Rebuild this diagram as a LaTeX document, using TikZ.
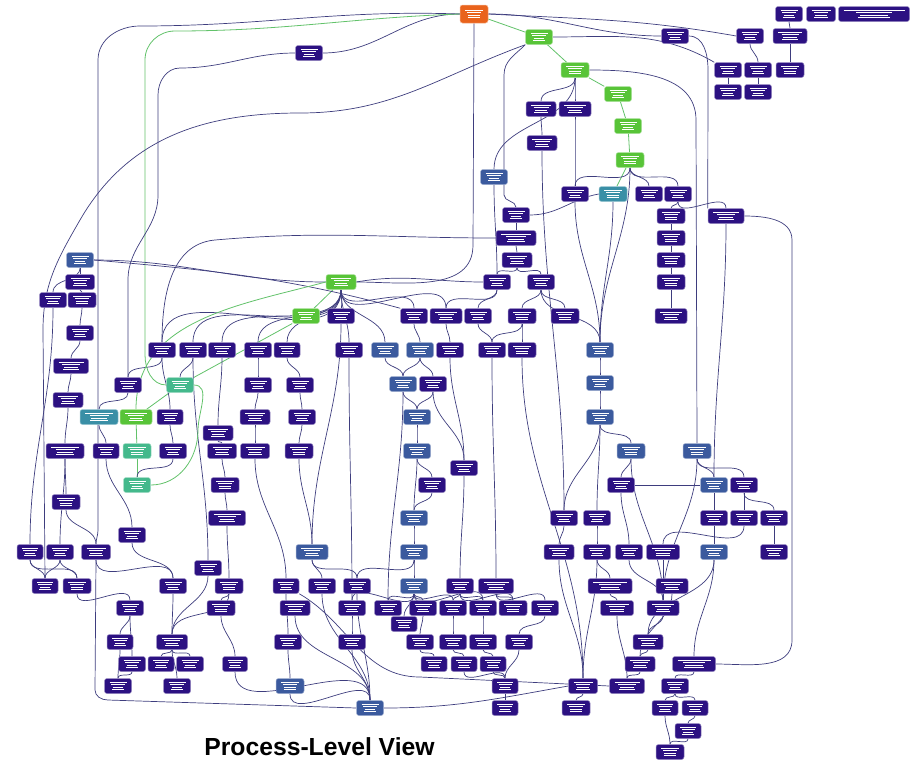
\documentclass[tikz,border=0pt]{standalone}
\usepackage{fontspec}
\newfontfamily\titlefont{Liberation Sans}
\usepackage{xcolor}
\usetikzlibrary{calc}
\pgfdeclarelayer{edges}
\pgfsetlayers{edges,main}

\definecolor{fnindigo}{HTML}{2C1182}
\definecolor{fnsteel}{HTML}{3B5A9E}
\definecolor{fnteal}{HTML}{3A8FA6}
\definecolor{fngreen}{HTML}{58C438}
\definecolor{fnmint}{HTML}{44B98C}
\definecolor{fnorange}{HTML}{E9631C}
\definecolor{edgeblue}{HTML}{3E3D7E}
\definecolor{edgegreen}{HTML}{62C26A}

% white bars standing for the unreadable node text
\newcommand{\fnlines}[1]{\vbox{\offinterlineskip\halign{\hfil##\hfil\cr
\rule{\dimexpr#1pt-10pt\relax}{0.9pt}\cr\noalign{\kern1.7pt}
\rule{\dimexpr#1pt*5/10\relax}{0.9pt}\cr\noalign{\kern1.7pt}
\rule{\dimexpr#1pt*4/10\relax}{0.9pt}\cr\noalign{\kern1.7pt}
\rule{\dimexpr#1pt*45/100\relax}{0.9pt}\cr}}}

\tikzset{
  fn/.style={rounded corners=2.5pt, inner sep=0pt, minimum height=15pt,
    text=white, fill=#1, draw=#1!50!white, line width=0.5pt},
  ln/.style={draw=edgeblue, line width=0.7pt},
  gln/.style={draw=edgegreen, line width=0.8pt}
}

\begin{document}
\begin{tikzpicture}[x=1pt,y=1pt]
\useasboundingbox (0,0) rectangle (912,-764);

\node[fn=fnorange, minimum width=28pt, minimum height=18pt] (root) at (474,-14) {\fnlines{28}};
\foreach \n/\x/\y/\w in {g1/539/37/27, g2/575/70/28, g3/618/94/27, g4/628/126/27,
  g5/630/160/28, g6/341/282/30, g7/306/316/27, g9/136/417/32}
  \node[fn=fngreen, minimum width=\w pt] (\n) at (\x,-\y) {\fnlines{\w}};
\foreach \n/\x/\y/\w in {g8/180/385/27, g10/137/451/28, g11/137/485/27}
  \node[fn=fnmint, minimum width=\w pt] (\n) at (\x,-\y) {\fnlines{\w}};
\foreach \n/\x/\y/\w in {tl/613/194/28, lt/99/417/38}
  \node[fn=fnteal, minimum width=\w pt] (\n) at (\x,-\y) {\fnlines{\w}};
\foreach \n/\x/\y/\w in {t5/494/177/27, m8/385/350/27, m9/420/350/27, m13/600/350/27,
  m14/403/384/27, m16/600/383/27, m17/417/417/27, m18/600/417/27, m19/417/451/27,
  m22/414/518/27, m23/414/552/27, m24/312/552/32, m27/414/586/27, b21/370/708/27,
  r5/631/451/28, r6/697/451/28, r8/714/485/27, r15/714/552/27, l1/80/260/27, l51/290/686/28}
  \node[fn=fnsteel, minimum width=\w pt] (\n) at (\x,-\y) {\fnlines{\w}};
\foreach \n/\x/\y/\w in {t1/309/53/27, t2/541/109/30, t3/575/109/32, t4/542/143/30,
  t6/575/194/27, t7/649/194/27, t8/678/194/27, t9/516/215/27, t10/516/238/40,
  t11/517/260/30, t12/497/282/27, t13/541/282/27, t14/726/216/36, t15/671/216/28,
  t16/671/238/28, t17/671/260/28, t18/671/282/28, t19/671/316/32, t20/675/36/27,
  t21/750/36/27, t22/790/36/34, t23/728/70/27, t24/758/70/27, t25/790/70/28,
  t26/728/92/27, t27/758/92/27, t28/789/14/27, t29/821/14/29, t30/874/14/71,
  m1/341/316/27, m2/414/316/27, m3/446/316/32, m4/478/316/27, m5/522/316/28,
  m6/565/316/28, m7/349/350/27, m10/450/350/27, m11/492/350/27, m12/522/350/28,
  m15/433/384/27, m20/464/468/27, m21/432/485/27, m25/322/586/27, m26/357/586/27,
  m28/460/586/27, m29/496/586/35,
  b1/352/608/27, b2/388/608/27, b3/423/608/27, b4/453/608/27, b5/483/608/27,
  b6/513/608/28, b7/545/608/27, b8/404/624/26, b9/352/642/27, b10/420/642/27,
  b11/453/642/27, b12/483/642/27, b13/519/642/27, b14/434/664/26, b15/464/664/26,
  b16/493/664/26, b17/505/686/26, b18/583/686/29, b19/505/708/26, b20/576/708/28,
  r1/564/518/27, r2/597/518/27, r3/559/552/30, r4/597/552/27, r7/621/485/27,
  r9/744/485/27, r10/714/518/27, r11/744/518/27, r12/774/518/27, r13/629/552/27,
  r14/663/552/33, r16/774/552/27, r17/610/586/44, r18/672/586/32, r19/617/608/33,
  r20/663/608/32, r21/648/642/30, r22/640/664/30, r23/694/664/43, r24/627/686/35,
  r25/675/686/27, r26/665/708/26, r27/695/708/26, r28/688/731/26, r29/670/752/28,
  l2/80/282/29, l3/53/300/27, l4/82/300/28, l5/80/333/27, l6/71/366/35,
  l7/162/350/27, l8/193/350/27, l9/222/350/27, l10/258/350/27, l11/287/350/26,
  l12/128/385/27, l13/258/385/27, l14/300/385/27, l15/68/400/30, l16/170/417/26,
  l17/255/417/30, l18/302/417/27, l19/218/433/30, l20/65/451/38, l21/106/451/26,
  l22/173/451/27, l23/222/451/29, l24/255/451/29, l25/299/451/28, l26/225/485/28,
  l27/66/502/28, l28/227/518/37, l29/132/535/27, l30/30/552/26, l31/60/552/27,
  l32/96/552/29, l33/208/568/27, l34/45/586/26, l35/77/586/28, l36/173/586/27,
  l37/229/586/28, l38/286/586/26, l39/130/608/27, l40/221/608/28, l41/295/608/30,
  l42/120/642/26, l43/172/642/31, l44/288/642/27, l45/132/664/27, l46/161/664/26,
  l47/190/664/27, l48/235/664/25, l49/118/686/27, l50/177/686/27}
  \node[fn=fnindigo, minimum width=\w pt] (\n) at (\x,-\y) {\fnlines{\w}};

\begin{pgfonlayer}{edges}
\foreach \a/\b in {root/g1, g1/g2, g2/g3, g3/g4, g4/g5, g5/tl, g6/g7, g7/g8, g8/g9,
  g9/g10, g10/g11}
  \draw[gln] (\a) -- (\b);
\foreach \a/\b in {g2/t5, g2/t2, g2/t3, t2/t4, t3/t6, g5/t6, g5/t7, g5/t8, t8/t15,
  t15/t16, t16/t17, t17/t18, t18/t19, t8/t14, t9/t10, t10/t11, t11/t12, t11/t13,
  t5/t12, t12/m3, t12/m4, t13/m5, t13/m6, t21/t24, t24/t27, t23/t26, t22/t25,
  t28/t22, tl/m13, t6/m13, t4/r1, t13/m13, g5/m13, t14/r8,
  g6/m1, g6/m2, g6/m7, g6/m8, g6/l7, g6/l8, g6/l9, g6/l10, g6/l11, g6/m3, m2/m9,
  m3/m10, m4/m11, m5/m11, m5/m12, m8/m14, m9/m14, m9/m15, m14/m17, m15/m17,
  m17/m19, m19/m21, m19/m22, m21/m22, m22/m23, m23/m27, m20/m28, m10/m20, m15/m20,
  m27/b1, m27/b2, m27/b3, m27/b4, m27/b5, m28/b4, m28/b5, m28/b6, m29/b6, m29/b7,
  m27/b8, b1/b9, b3/b10, b4/b11, b5/b12, b7/b13, b10/b14, b11/b15, b12/b16,
  b15/b17, b16/b17, b13/b17, b17/b19, b18/b20, m24/m25, m24/m26, m1/m24, m7/b1,
  m14/b2, m11/m29, m12/b18, m23/m26,
  m13/m16, m16/m18, m18/r5, m18/r1, m18/r2, r1/r3, r2/r4, r4/r17, r3/b18, r4/b18,
  r5/r7, r6/r8, r6/r9, r9/r11, r9/r12, r12/r16, r8/r10, r10/r15, r5/r20, r6/r20,
  r13/r20, r14/r20, r15/r21, r20/r21, r21/r22, r22/r24, r23/r25, r25/r26, r25/r27,
  r27/r28, r28/r29, r26/r29, r17/r19, r19/r24, r15/r23, r18/r22, r11/r14, r7/r13,
  l1/l2, l1/l3, l2/l4, l4/l5, l5/l6, l6/l15, l15/l20, l3/l30, lt/l21, l16/l22,
  l22/g11, l7/l12, l8/g8, l9/l19, l19/l23, l23/l26, l26/l28, l28/l37, l10/l13,
  l13/l17, l17/l24, l24/l38, l11/l14, l14/l18, l18/l25, l25/m24, l20/l27, l27/l32,
  l21/l29, l29/l36, l32/l36, l30/l34, l31/l34, l31/l35, l30/l35, l35/l39, l36/l43,
  l33/l43, l37/l43, l39/l42, l39/l45, l42/l49, l45/l49, l43/l46, l43/l47, l43/l50,
  l38/l44, l40/l48, l44/l51, l51/b21, l48/b21, b9/b21, m25/b21, m26/b21, l41/b21,
  l8/l33, l12/lt, l7/l16, l37/l40, l20/l31}
  \draw[ln] (\a) to[out=-90,in=90] (\b);

\draw[ln] (root.west) to[out=180,in=0] (t1.east);
\draw[ln] (root.west) to[out=178,in=0] (140,-26) to[out=180,in=90] (98,-60)
  -- (98,-530) to[out=-90,in=90] (l32.north);
\draw[gln] (root.west) to[out=182,in=0] (175,-31) to[out=180,in=90] (145,-60)
  -- (145,-355) to[out=-90,in=180] (g8.west);
\draw[ln] (t1.west) to[out=180,in=0] (180,-68) to[out=180,in=90] (158,-95)
  -- (158,-195) to[out=-90,in=90] (128,-280) -- (l12.north);
\draw[ln] (g1.south west) to[out=200,in=0] (300,-113) to[out=180,in=60] (80,-220)
  to[out=240,in=90] (43,-330) -- (l34.north);
\draw[ln] (root.south) -- (473,-245) to[out=-90,in=0] (g6.east);
\draw[ln] (g1.south west) to[out=225,in=90] (504,-75) -- (504,-195)
  to[out=-90,in=90] (t9.north);
\draw[ln] (t10.west) to[out=180,in=5] (215,-240) to[out=185,in=90] (l7.north);
\draw[ln] (l1.east) to[out=0,in=180] (g6.west);
\draw[ln] (l1.east) to[out=-5,in=165] (m2.north west);
\draw[ln] (t20.east) to[out=0,in=90] (708,-70) -- (t14.north west);
\draw[ln] (g2.east) to[out=0,in=90] (696,-120) -- (r6.north);
\draw[ln] (t14.east) to[out=0,in=90] (792,-240) -- (792,-640) to[out=-90,in=0] (r23.east);
\draw[ln] (root.east) to[out=0,in=180] (t20.west);
\draw[ln] (root.east) to[out=-3,in=170] (t21.west);
\draw[ln] (g1.east) to[out=0,in=150] (t23.north west);
\draw[ln] (l32.south) -- (95,-690) to[out=-90,in=180] (108,-700) -- (b21.west);
\draw[ln] (b21.east) to[out=0,in=190] (b18.west);
\draw[ln] (l38.south east) to[out=-30,in=180] (420,-677) -- (r24.west);
\draw[ln] (r7.east) -- (r8.west);
\draw[ln] (tl.west) to[out=190,in=0] (t9.east);
\draw[ln] (g6.east) to[out=10,in=180] (t12.west);
\draw[gln] (g6.west) to[out=195,in=90] (g9.north);
\draw[gln] (g8.east) to[out=0,in=90] (198,-430) to[out=-90,in=0] (g11.east);
\end{pgfonlayer}

\node[font=\titlefont\bfseries\fontsize{24.7}{28}\selectfont, anchor=base] (title)
  at (319.5,-755) {Process-Level View};
\end{tikzpicture}
\end{document}
